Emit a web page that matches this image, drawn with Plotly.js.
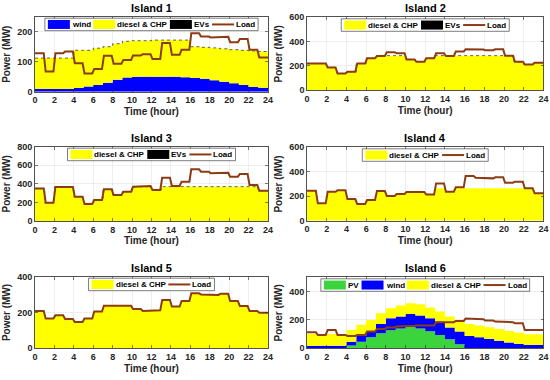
<!DOCTYPE html>
<html><head><meta charset="utf-8">
<script src="https://cdn.plot.ly/plotly-3.0.1.min.js"></script>
<style>html,body{margin:0;padding:0;background:#fff}#chart{width:550px;height:380px}</style>
</head><body><div id="chart"></div>
<script>
// ---------------- data ----------------
const hours = [0,1,2,3,4,5,6,7,8,9,10,11,12,13,14,15,16,17,18,19,20,21,22,23];
const xTickVals = [0,2,4,6,8,10,12,14,16,18,20,22,24];
const islandNames = ['Island 1','Island 2','Island 3','Island 4','Island 5','Island 6'];

const island1Wind   = [9,9,9,9,12,17,22,30,40,47,50,50,50,50,50,48,46,43,38,33,28,22,16,13];
const island1Diesel = [103,103,103,103,126,121,123,120,120,121,120,120,122,122,122,124,104,105,108,110,112,116,120,121];
const island1EVs    = [0,0,0,0,0,0,0,0,0,0,0,0,0,0,0,0,0,0,0,0,0,0,0,0];
const island1Load   = [128,67,128,134,95,61,76,120,93,106,121,125,109,162,123,140,195,184,181,183,165,176,140,114];

const island2Diesel = [221,221,188,138,152,221,263,282,285,285,254,235,263,285,282,285,285,285,285,285,285,235,213,227];
const island2EVs    = [0,0,0,0,0,0,0,0,0,0,0,0,0,0,0,0,0,0,0,0,0,0,0,0];
const island2Load   = [221,221,188,138,152,221,263,282,312,304,254,235,263,304,282,318,337,335,329,337,285,235,213,227];

const island3Diesel = [351,197,366,366,262,183,226,341,280,316,369,370,334,370,370,370,370,370,370,370,370,370,370,326];
const island3EVs    = [0,0,0,0,0,0,0,0,0,0,0,0,0,0,0,0,0,0,0,0,0,0,0,0];
const island3Load   = [351,197,366,366,262,183,226,341,280,316,369,377,334,466,377,423,556,531,513,520,477,506,387,326];

const island4Diesel = [245,142,237,248,177,136,169,243,202,218,235,235,215,265,237,265,265,265,265,265,265,265,265,224];
const island4Load   = [245,142,237,248,177,136,169,243,202,218,235,235,215,305,237,273,365,352,346,355,311,319,265,224];

const island5Diesel = [208,167,184,164,147,167,205,238,238,238,219,208,212,270,233,264,307,301,298,305,264,236,208,199];
const island5Load   = [208,167,184,164,147,167,205,238,238,238,219,208,212,270,233,264,307,301,298,305,264,236,208,199];

const island6PV     = [0,0,0,0,19,47,78,106,127,139,151,139,120,94,64,28,0,0,0,0,0,0,0,0];
const island6Wind   = [17,18,18,18,28,40,40,66,85,85,91,92,92,94,82,90,87,78,66,54,40,31,24,24];
const island6Diesel = [83,82,82,82,82,78,82,75,70,77,76,80,75,71,78,75,85,82,82,82,82,80,75,75];
const island6Load   = [113,94,129,94,87,94,118,136,146,153,158,160,160,184,184,193,209,205,195,188,184,176,129,129];

const yRanges = [[0,250],[0,600],[0,800],[0,600],[0,400],[0,500]];
const yTickVals = [[0,100,200],[0,200,400,600],[0,200,400,600,800],[0,200,400,600],[0,200,400],[0,200,400]];

// ---------------- styles ----------------
const COL = {PV:'#3cd43c', wind:'#0000ff', diesel:'#ffff00', EVs:'#000000', Load:'#8c3c14'};
const FONT = 'Liberation Sans, Arial, sans-serif';
const W = 550, H = 380;

const panels = [
  {series:[['wind',island1Wind],['diesel & CHP',island1Diesel],['EVs',island1EVs]], load:island1Load},
  {series:[['diesel & CHP',island2Diesel],['EVs',island2EVs]], load:island2Load},
  {series:[['diesel & CHP',island3Diesel],['EVs',island3EVs]], load:island3Load},
  {series:[['diesel & CHP',island4Diesel]], load:island4Load},
  {series:[['diesel & CHP',island5Diesel]], load:island5Load},
  {series:[['PV',island6PV],['wind',island6Wind],['diesel & CHP',island6Diesel]], load:island6Load}
];
function colorOf(name){ return name==='diesel & CHP' ? COL.diesel : COL[name]; }

// pixel boxes of plot areas [left, right, top, bottom]
const boxes = [
  [35,268,16.7,91.7],[307,543.5,17.3,90.3],
  [35,268,146.7,221],[307,543.5,147.3,220.7],
  [35,268,276.7,348.3],[307,543.5,277.3,348.3]
];

const traces = [], shapes = [], annotations = [];
const layout = {
  width:W, height:H, margin:{l:0,r:0,t:0,b:0},
  paper_bgcolor:'#fff', plot_bgcolor:'#fff', showlegend:false,
  font:{family:FONT, color:'#262626', size:9, weight:'bold'}
};

const stepX = hours.concat([24]);
const canvas = document.createElement('canvas');
const ctx = canvas.getContext('2d');
const LEG_FS = 8;
ctx.font = 'bold ' + LEG_FS + 'px "Liberation Sans"';

panels.forEach((p, i) => {
  const k = i + 1;
  const xa = 'x' + (k===1?'':k), ya = 'y' + (k===1?'':k);
  const b = boxes[i];
  const common = {
    showline:true, linecolor:'#262626', linewidth:0.8, mirror:'ticks',
    ticks:'inside', ticklen:3, tickwidth:0.6, tickcolor:'#262626',
    showgrid:true, gridcolor:'#e2e2e2', gridwidth:0.6, zeroline:false,
    tickfont:{family:FONT, size:9, weight:'bold', color:'#262626'}
  };
  layout['xaxis' + (k===1?'':k)] = Object.assign({}, common, {
    domain:[b[0]/W, b[1]/W], anchor:ya, range:[0,24], tickmode:'array', tickvals:xTickVals,
    title:{text:'Time (hour)', font:{family:FONT, size:10, weight:'bold', color:'#262626'}, standoff:3}
  });
  layout['yaxis' + (k===1?'':k)] = Object.assign({}, common, {
    domain:[1-b[3]/H, 1-b[2]/H], anchor:xa, range:yRanges[i], tickmode:'array', tickvals:yTickVals[i],
    title:{text:'Power (MW)', font:{family:FONT, size:10, weight:'bold', color:'#262626'}, standoff:4}
  });

  // stacked step areas
  p.series.forEach(([name, vals]) => {
    const isEV = name === 'EVs';
    traces.push({
      type:'scatter', mode:'lines', name:name, xaxis:xa, yaxis:ya,
      x:stepX, y:vals.concat([vals[vals.length-1]]),
      stackgroup:'s'+k, line:isEV ? {shape:'hv', width:0.8, color:'#3a3a3a', dash:'dot'} : {shape:'hv', width:0},
      fill:isEV ? 'none' : undefined,
      fillcolor:colorOf(name), hoverinfo:'skip'
    });
  });
  // top edge of generation (dotted) for islands 1-4 when no EVs trace
  // load line with short ramps at hour boundaries
  const lx = [], ly = [];
  p.load.forEach((v, h) => {
    lx.push(h===0 ? 0 : h+0.1); ly.push(v);
    lx.push(h===hours.length-1 ? 24 : h+0.9); ly.push(v);
  });
  traces.push({type:'scatter', mode:'lines', name:'Load', xaxis:xa, yaxis:ya, x:lx, y:ly,
    line:{color:COL.Load, width:2}, hoverinfo:'skip'});

  // subplot title
  annotations.push({xref:'paper', yref:'paper', x:(b[0]+b[1])/2/W, y:1-b[2]/H, xanchor:'center', yanchor:'bottom',
    yshift:1, showarrow:false, text:islandNames[i], font:{family:FONT, size:11, weight:'bold', color:'#000'}});

  // legend (MATLAB-style, north)
  const items = p.series.map(s => ({label:s[0], kind:'patch', color:colorOf(s[0])}))
    .concat([{label:'Load', kind:'line', color:COL.Load}]);
  const PAD = 3, SYM = 22, G1 = 2, G2 = 3, BH = 12.5;
  let total = PAD;
  items.forEach((it, j) => { it.tw = ctx.measureText(it.label).width; total += SYM + G1 + it.tw + (j<items.length-1?G2:0); });
  total += PAD;
  const cx = (b[0]+b[1])/2, top = b[2] + 1.5;
  let x = cx - total/2;
  const cy = top + BH/2;
  shapes.push({type:'rect', xref:'paper', yref:'paper', x0:x/W, x1:(x+total)/W, y0:1-top/H, y1:1-(top+BH)/H,
    fillcolor:'#fff', line:{color:'#262626', width:0.6}});
  x += PAD;
  items.forEach((it, j) => {
    if (it.kind === 'patch') {
      shapes.push({type:'rect', xref:'paper', yref:'paper', x0:x/W, x1:(x+SYM)/W, y0:1-(cy-4.5)/H, y1:1-(cy+4.5)/H,
        fillcolor:it.color, line:{width:0}});
    } else {
      shapes.push({type:'line', xref:'paper', yref:'paper', x0:x/W, x1:(x+SYM)/W, y0:1-cy/H, y1:1-cy/H,
        line:{color:it.color, width:2}});
    }
    x += SYM + G1;
    annotations.push({xref:'paper', yref:'paper', x:(x-2)/W, y:1-cy/H, xanchor:'left', yanchor:'middle',
      showarrow:false, text:it.label, font:{family:FONT, size:LEG_FS, weight:'bold', color:'#000'}});
    x += it.tw + G2;
  });
});

layout.shapes = shapes;
layout.annotations = annotations;
Plotly.newPlot('chart', traces, layout, {staticPlot:true, displayModeBar:false});
</script></body></html>
